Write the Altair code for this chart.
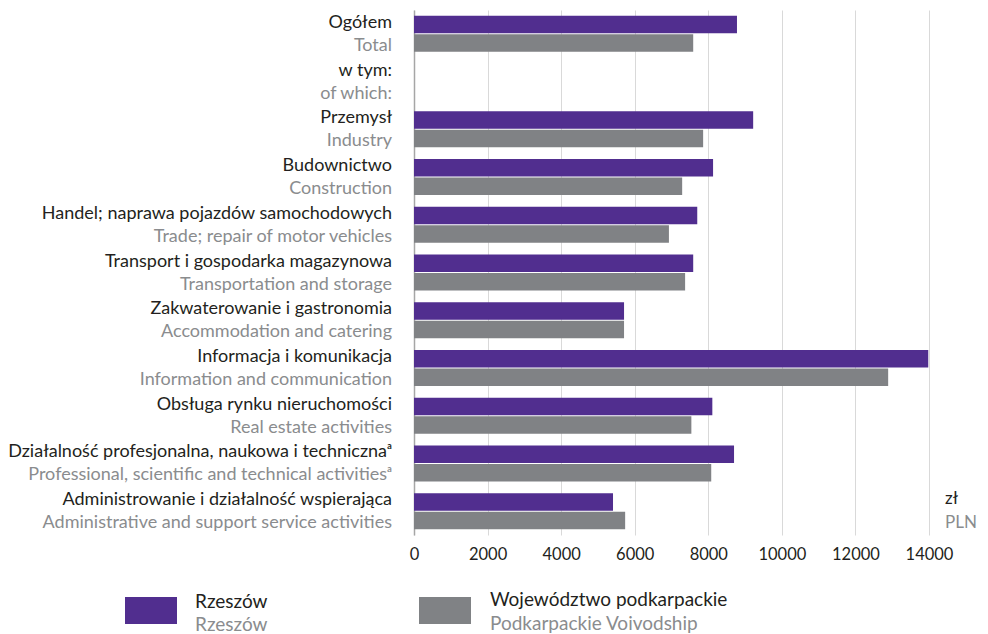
import altair as alt
import pandas as pd

categories_pl = [
    "Ogółem", "w tym:", "Przemysł", "Budownictwo",
    "Handel; naprawa pojazdów samochodowych",
    "Transport i gospodarka magazynowa",
    "Zakwaterowanie i gastronomia",
    "Informacja i komunikacja",
    "Obsługa rynku nieruchomości",
    "Działalność profesjonalna, naukowa i technicznaᵃ",
    "Administrowanie i działalność wspierająca",
]
categories_en = [
    "Total", "of which:", "Industry", "Construction",
    "Trade; repair of motor vehicles",
    "Transportation and storage",
    "Accommodation and catering",
    "Information and communication",
    "Real estate activities",
    "Professional, scientific and technical activitiesᵃ",
    "Administrative and support service activities",
]
rzeszow = [8780, None, 9220, 8130, 7700, 7590, 5710, 13980, 8110, 8700, 5410]
podkarpackie = [7590, None, 7860, 7290, 6930, 7370, 5710, 12890, 7540, 8080, 5740]
series_pl = ["Rzeszów", "Województwo podkarpackie"]
series_en = ["Rzeszów", "Podkarpackie Voivodship"]
x_ticks = [0, 2000, 4000, 6000, 8000, 10000, 12000, 14000]

PURPLE = "#512E8F"
GRAY = "#808285"
TXT = "#231F20"
TXT2 = "#8A8C8E"
FONT = "Lato"
LFS = 18

rows = []
for i, c in enumerate(categories_pl):
    for s, vals in zip(series_pl, [rzeszow, podkarpackie]):
        if vals[i] is not None:
            rows.append({"cat": c, "series": s, "value": vals[i]})
bars_df = pd.DataFrame(rows)
labels_df = pd.DataFrame({"cat": categories_pl, "en": categories_en})

yscale = alt.Scale(domain=categories_pl, paddingInner=0.245, paddingOuter=0.12)

bars = alt.Chart(bars_df).mark_bar().encode(
    x=alt.X("value:Q", scale=alt.Scale(domain=[0, 14000], nice=False),
            axis=alt.Axis(values=x_ticks, format="d", grid=True, gridColor="#D9D9D9", domain=False,
                          ticks=False, labelFontSize=16.5, labelColor=TXT, labelFont=FONT,
                          labelPadding=11, title=None, labelFlush=False)),
    y=alt.Y("cat:N", scale=yscale,
            axis=alt.Axis(labels=False, ticks=False, domain=True, domainColor="#A6A6A6",
                          domainWidth=1.5, grid=False, title=None)),
    yOffset=alt.YOffset("series:N", scale=alt.Scale(domain=series_pl, paddingInner=0.06)),
    color=alt.Color("series:N", scale=alt.Scale(domain=series_pl, range=[PURPLE, GRAY]), legend=None),
)

lab_pl = alt.Chart(labels_df).mark_text(
    align="right", baseline="middle", dy=-11, fontSize=LFS, font=FONT, color=TXT
).encode(y=alt.Y("cat:N", scale=yscale), x=alt.value(-22), text="cat:N")

lab_en = alt.Chart(labels_df).mark_text(
    align="right", baseline="middle", dy=12, fontSize=LFS, font=FONT, color=TXT2
).encode(y=alt.Y("cat:N", scale=yscale), x=alt.value(-22), text="en:N")

unit_df = pd.DataFrame({"pl": ["zł"], "en": ["PLN"]})
unit_pl = alt.Chart(unit_df).mark_text(align="left", baseline="middle", fontSize=17, font=FONT,
                                       color=TXT).encode(x=alt.value(531), y=alt.value(489), text="pl:N")
unit_en = alt.Chart(unit_df).mark_text(align="left", baseline="middle", fontSize=17, font=FONT,
                                       color=TXT2).encode(x=alt.value(531), y=alt.value(513), text="en:N")

leg_df = pd.DataFrame({"pl": series_pl, "en": series_en})
legend_layers = []
for i, (x0, col, txx, y1, y2) in enumerate([(-289, PURPLE, -219, 592, 615), (5, GRAY, 76, 590, 614)]):
    d = leg_df.iloc[[i]]
    legend_layers.append(alt.Chart(d).mark_rect(color=col).encode(
        x=alt.value(x0), x2=alt.value(x0 + 52), y=alt.value(587), y2=alt.value(614)))
    legend_layers.append(alt.Chart(d).mark_text(align="left", baseline="middle", fontSize=19,
                                                font=FONT, color=TXT).encode(
        x=alt.value(txx), y=alt.value(y1), text="pl:N"))
    legend_layers.append(alt.Chart(d).mark_text(align="left", baseline="middle", fontSize=19,
                                                font=FONT, color=TXT2).encode(
        x=alt.value(txx), y=alt.value(y2), text="en:N"))

chart = alt.layer(bars, lab_pl, lab_en, unit_pl, unit_en, *legend_layers).properties(
    width=515, height=525,
    autosize=alt.AutoSizeParams(type="none"),
    padding={"left": 406, "top": 2, "right": 51, "bottom": 99},
).configure_view(stroke=None)

chart.save("out.html", embed_options={"renderer": "svg", "actions": False})
